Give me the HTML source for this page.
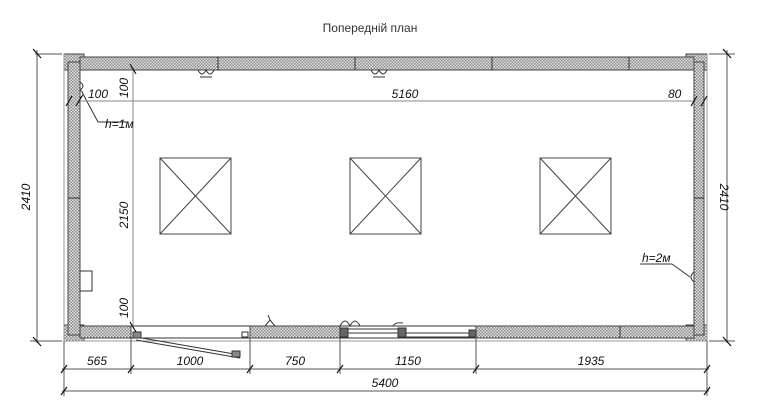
<!DOCTYPE html>
<html><head><meta charset="utf-8"><style>
html,body{margin:0;padding:0;background:#fff;width:758px;height:418px;overflow:hidden}
svg{display:block}
.t{font-family:"Liberation Sans",sans-serif;font-style:italic;font-size:12px;fill:#111}
</style></head><body>
<svg width="758" height="418" viewBox="0 0 758 418" xmlns="http://www.w3.org/2000/svg">
<defs>
<pattern id="h" width="3" height="3" patternUnits="userSpaceOnUse">
<rect width="3" height="3" fill="#e4e4e4"/><rect width="1.5" height="1.5" fill="#8a8a8a"/><rect x="1.5" y="1.5" width="1.5" height="1.5" fill="#8a8a8a"/>
</pattern>
</defs>
<text x="370" y="32" text-anchor="middle" font-family="'Liberation Sans',sans-serif" font-size="12" fill="#333">Попередній план</text>

<g stroke="#444" stroke-width="1" fill="url(#h)">
<!-- corners -->
<rect x="64" y="54" width="20" height="16"/>
<rect x="64" y="325" width="20" height="16"/>
<rect x="686" y="54" width="21" height="16"/>
<rect x="686" y="325" width="21" height="16"/>
<!-- top wall -->
<rect x="80" y="57" width="614" height="13"/>
<!-- left wall -->
<rect x="68" y="62" width="12" height="273"/>
<!-- right wall -->
<rect x="694" y="62" width="10" height="273"/>
<!-- bottom walls -->
<rect x="80" y="326" width="51" height="12"/>
<rect x="250" y="326" width="90" height="12"/>
<rect x="476" y="326" width="218" height="12"/>
</g>
<g stroke="#333" stroke-width="1">
<line x1="218" y1="57" x2="218" y2="70"/><line x1="355" y1="57" x2="355" y2="70"/>
<line x1="492" y1="57" x2="492" y2="70"/><line x1="629" y1="57" x2="629" y2="70"/>
<line x1="68" y1="198" x2="80" y2="198"/><line x1="694" y1="198" x2="704" y2="198"/>
<line x1="620" y1="326" x2="620" y2="338"/>
</g>
<!-- outer thin lines -->
<g stroke="#999" stroke-width="1" fill="none">
<line x1="64" y1="54" x2="64" y2="341"/><line x1="707" y1="54" x2="707" y2="341"/>
<line x1="64" y1="341" x2="707" y2="341"/>
</g>
<!-- door opening -->
<g stroke="#333" fill="none">
<line x1="131" y1="326" x2="250" y2="326"/><line x1="131" y1="338" x2="250" y2="338"/>
<line x1="136" y1="337" x2="240" y2="355"/><line x1="136" y1="340" x2="240" y2="358"/>
<rect x="133" y="332" width="8" height="6" fill="#888"/>
<rect x="232" y="351" width="8" height="6" fill="#888"/>
<rect x="242" y="332" width="6" height="5"/>
</g>
<!-- window -->
<g stroke="#333" fill="none">
<line x1="340" y1="326" x2="476" y2="326"/><line x1="340" y1="338" x2="476" y2="338"/>
<rect x="345" y="329" width="55" height="4"/><rect x="405" y="333" width="64" height="4"/>
<rect x="340" y="328" width="8" height="9" fill="#666"/>
<rect x="398" y="328" width="8" height="9" fill="#666"/>
<rect x="469" y="330" width="7" height="7" fill="#666"/>
<path d="M393 326 q2-4 10-3" />
<path d="M340 326 q5-10 10 0 q5-10 10 0"/>
<path d="M265 326 l5-6 l5 6"/><line x1="270" y1="320" x2="268" y2="315"/>
</g>
<!-- sockets top -->
<g stroke="#333" fill="none">
<path d="M198 70 q4 8 8 0 q4 8 8 0"/><line x1="200" y1="77" x2="212" y2="77"/>
<path d="M371 70 q4 8 8 0 q4 8 8 0"/><line x1="373" y1="77" x2="385" y2="77"/>
<path d="M80 82 q6 4 0 8 q6 4 0 8"/>
<line x1="83" y1="94" x2="98" y2="122"/><line x1="98" y1="122" x2="128" y2="122"/>
<path d="M694 272 q-6 5 0 10"/><line x1="690" y1="277" x2="672" y2="264"/><line x1="672" y1="264" x2="640" y2="264"/>
<rect x="80" y="271" width="12" height="20"/>
</g>
<!-- inner dims -->
<g stroke="#888" stroke-width="1">
<line x1="80" y1="101" x2="694" y2="101"/>
<line x1="133" y1="70" x2="133" y2="326"/>
</g>
<g stroke="#111" stroke-width="1.2">
<line x1="66" y1="106" x2="72" y2="96"/><line x1="76" y1="106" x2="82" y2="96"/>
<line x1="691" y1="106" x2="697" y2="96"/><line x1="701" y1="106" x2="707" y2="96"/>
<line x1="130" y1="64" x2="136" y2="74"/><line x1="130" y1="322" x2="136" y2="332"/>
</g>
<text class="t" x="88" y="98">100</text>
<text class="t" x="405" y="98" text-anchor="middle">5160</text>
<text class="t" x="668" y="98">80</text>
<text class="t" x="105" y="128">h=1м</text>
<text class="t" x="642" y="262">h=2м</text>
<text class="t" transform="translate(128,88) rotate(-90)" text-anchor="middle">100</text>
<text class="t" transform="translate(128,215) rotate(-90)" text-anchor="middle">2150</text>
<text class="t" transform="translate(128,308) rotate(-90)" text-anchor="middle">100</text>
<!-- squares -->
<g stroke="#444" fill="none">
<rect x="160" y="158" width="71" height="76"/><line x1="160" y1="158" x2="231" y2="234"/><line x1="231" y1="158" x2="160" y2="234"/>
<rect x="350" y="158" width="71" height="76"/><line x1="350" y1="158" x2="421" y2="234"/><line x1="421" y1="158" x2="350" y2="234"/>
<rect x="540" y="158" width="71" height="76"/><line x1="540" y1="158" x2="611" y2="234"/><line x1="611" y1="158" x2="540" y2="234"/>
</g>
<!-- outer dims -->
<g stroke="#555" stroke-width="1">
<line x1="37" y1="50" x2="37" y2="343"/><line x1="35" y1="54" x2="62" y2="54"/><line x1="30" y1="341" x2="62" y2="341"/>
<line x1="727" y1="50" x2="727" y2="343"/><line x1="709" y1="54" x2="735" y2="54"/><line x1="709" y1="341" x2="735" y2="341"/>
<line x1="64" y1="341" x2="64" y2="396"/><line x1="707" y1="341" x2="707" y2="396"/>
<line x1="131" y1="338" x2="131" y2="374"/><line x1="250" y1="338" x2="250" y2="374"/>
<line x1="340" y1="338" x2="340" y2="374"/><line x1="476" y1="338" x2="476" y2="374"/>
<line x1="62" y1="369" x2="709" y2="369"/><line x1="62" y1="391" x2="709" y2="391"/>
</g>
<g stroke="#111" stroke-width="1.2">
<line x1="33" y1="49" x2="41" y2="58"/><line x1="33" y1="337" x2="41" y2="346"/>
<line x1="723" y1="49" x2="731" y2="58"/><line x1="723" y1="337" x2="731" y2="346"/>
<line x1="61" y1="373" x2="67" y2="365"/><line x1="128" y1="373" x2="134" y2="365"/>
<line x1="247" y1="373" x2="253" y2="365"/><line x1="337" y1="373" x2="343" y2="365"/>
<line x1="473" y1="373" x2="479" y2="365"/><line x1="704" y1="373" x2="710" y2="365"/>
<line x1="61" y1="395" x2="67" y2="387"/><line x1="704" y1="395" x2="710" y2="387"/>
</g>
<text class="t" transform="translate(30,197) rotate(-90)" text-anchor="middle">2410</text>
<text class="t" transform="translate(720,197) rotate(90)" text-anchor="middle">2410</text>
<text class="t" x="97" y="365" text-anchor="middle">565</text>
<text class="t" x="190" y="365" text-anchor="middle">1000</text>
<text class="t" x="295" y="365" text-anchor="middle">750</text>
<text class="t" x="408" y="365" text-anchor="middle">1150</text>
<text class="t" x="591" y="365" text-anchor="middle">1935</text>
<text class="t" x="385" y="387" text-anchor="middle">5400</text>
</svg>
</body></html>
